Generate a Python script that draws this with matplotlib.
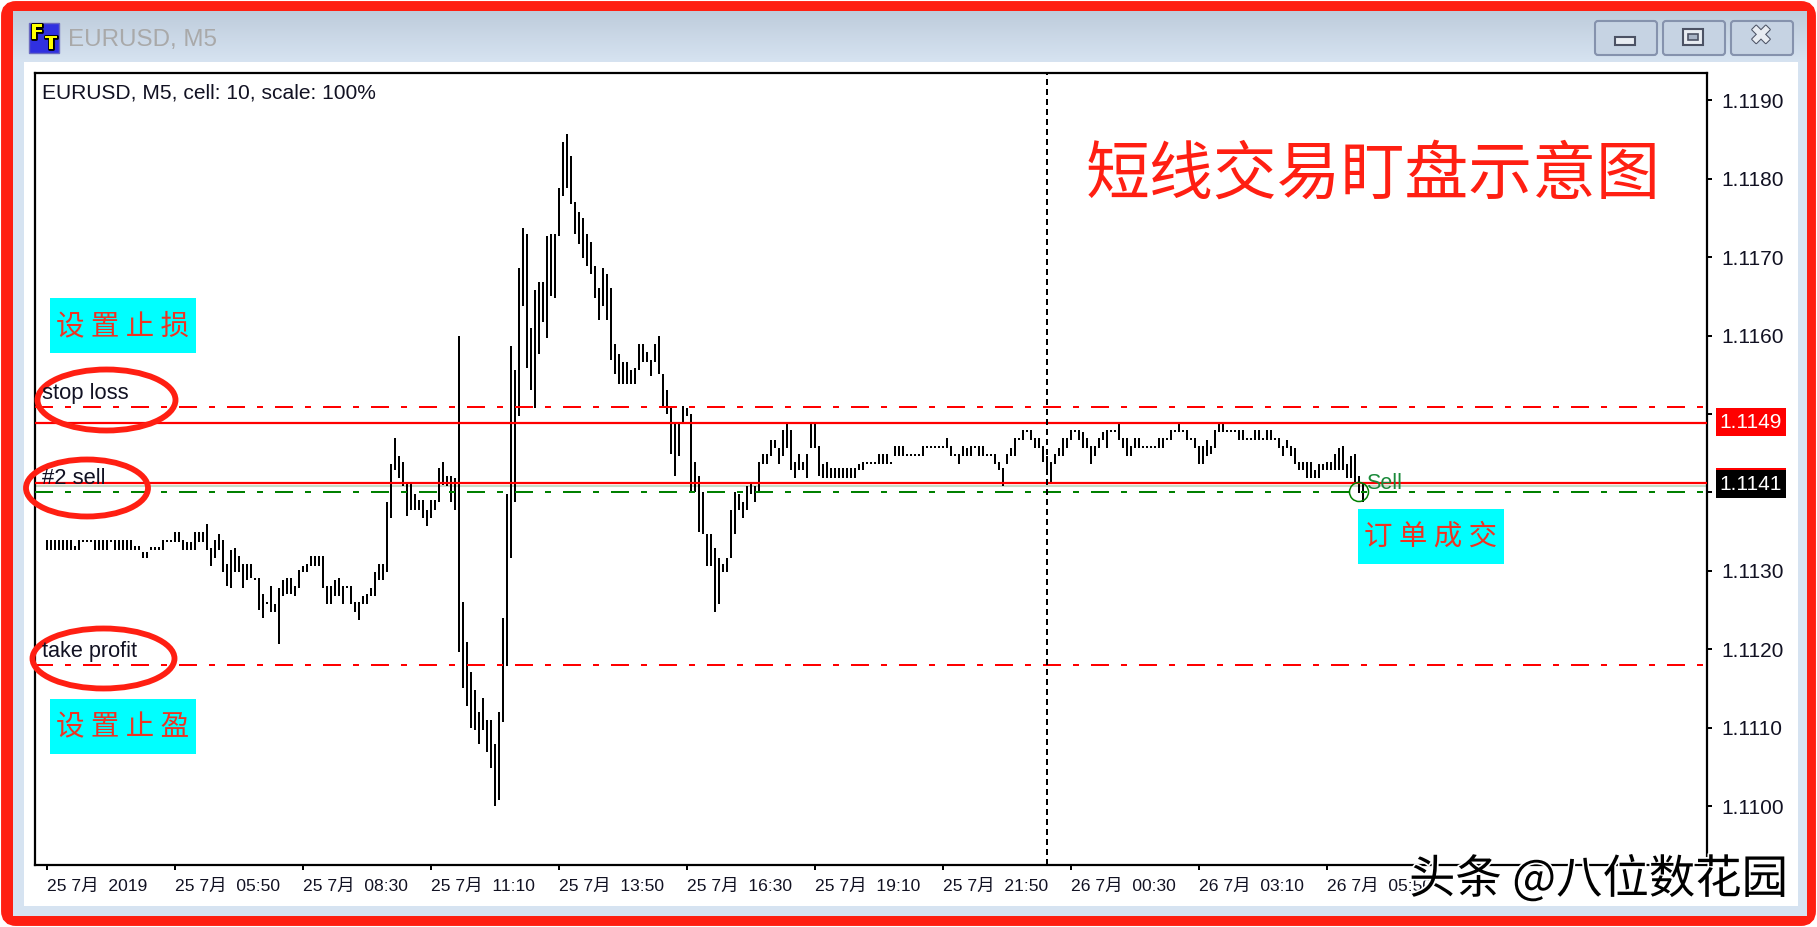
import matplotlib
matplotlib.use('Agg')
import matplotlib.pyplot as plt
import matplotlib.patheffects as pe
import numpy as np
from matplotlib.patches import Rectangle, Ellipse, FancyBboxPatch, Circle

# highs / lows of each M5 bar, points above 1.1100
high_pts = [
    33.9, 33.9, 33.9, 33.9, 33.9, 33.9, 33.9, 33.2, 33.9, 33.9,
    33.9, 33.9, 33.9, 33.9, 33.9, 33.9, 33.9, 33.9, 33.9, 33.9,
    33.9, 33.9, 33.2, 33.2, 32.4, 32.4, 33.0, 33.0, 33.0, 33.9,
    33.9, 33.9, 35.0, 35.0, 33.9, 33.7, 33.7, 35.0, 35.0, 35.0,
    36.0, 32.9, 33.9, 34.7, 33.9, 30.9, 32.7, 32.9, 31.9, 30.9,
    30.9, 30.9, 29.1, 29.1, 27.0, 26.0, 28.1, 25.8, 27.8, 28.8,
    29.1, 29.1, 28.1, 30.1, 30.6, 30.9, 31.9, 31.9, 31.9, 31.9,
    28.1, 28.1, 28.8, 29.1, 28.1, 28.1, 28.1, 26.0, 26.0, 26.8,
    27.1, 27.8, 29.9, 30.9, 30.9, 38.8, 43.6, 46.9, 44.6, 43.9,
    41.2, 41.2, 39.8, 39.0, 39.0, 37.8, 39.0, 39.0, 43.1, 43.9,
    42.1, 42.1, 41.9, 60.0, 26.0, 20.9, 17.1, 14.8, 12.0, 13.8,
    11.0, 11.0, 7.9, 12.0, 24.0, 39.8, 58.7, 55.6, 68.6, 73.7,
    73.0, 61.0, 65.8, 66.8, 66.8, 72.7, 73.0, 73.0, 78.8, 84.7,
    85.7, 82.9, 77.1, 75.8, 75.0, 73.0, 72.0, 68.9, 66.1, 68.6,
    67.9, 66.1, 58.9, 57.7, 56.6, 56.6, 55.6, 55.9, 58.9, 58.9,
    57.9, 56.9, 58.9, 60.0, 55.1, 53.1, 50.8, 48.8, 48.8, 51.0,
    50.8, 50.0, 43.9, 42.1, 40.1, 34.7, 34.7, 32.9, 31.6, 30.9,
    31.6, 37.8, 40.1, 39.8, 38.8, 40.8, 41.1, 40.8, 43.9, 44.9,
    44.9, 46.7, 46.7, 45.7, 48.0, 48.8, 48.0, 43.9, 44.9, 43.9,
    44.9, 48.8, 48.8, 45.9, 43.6, 43.9, 43.1, 43.1, 43.1, 43.1,
    43.1, 43.1, 43.1, 43.6, 43.9, 43.9, 43.9, 43.9, 44.9, 44.9,
    44.9, 43.9, 45.9, 45.9, 45.9, 44.9, 44.9, 44.9, 44.9, 45.9,
    45.9, 45.9, 45.9, 45.9, 45.9, 47.0, 45.9, 44.9, 44.9, 45.9,
    45.7, 45.9, 45.9, 45.9, 45.9, 44.9, 44.9, 44.9, 43.9, 43.1,
    44.9, 45.7, 47.0, 47.0, 48.0, 48.0, 48.0, 47.0, 47.0, 45.9,
    44.7, 43.9, 44.9, 45.7, 47.0, 47.0, 48.0, 48.0, 48.0, 47.7,
    47.0, 45.9, 45.9, 47.0, 47.7, 48.0, 48.0, 48.0, 49.0, 47.0,
    47.0, 45.9, 47.0, 47.0, 45.9, 45.9, 45.9, 45.9, 47.0, 47.0,
    47.0, 48.0, 48.0, 49.0, 48.0, 48.0, 47.0, 47.0, 45.9, 45.9,
    46.7, 45.9, 48.0, 49.0, 49.0, 48.0, 48.0, 48.0, 48.0, 48.0,
    47.0, 47.0, 48.0, 48.0, 47.0, 48.0, 48.0, 47.0, 47.0, 45.9,
    46.7, 45.9, 45.7, 43.9, 43.9, 43.9, 43.9, 42.9, 43.6, 43.6,
    43.9, 43.9, 44.9, 45.7, 45.9, 43.6, 44.7, 44.9, 42.1, 41.1,
]
low_pts = [
    32.7, 32.7, 32.7, 32.7, 32.7, 32.7, 32.7, 32.7, 32.7, 33.7,
    33.7, 33.7, 32.7, 32.7, 32.7, 32.7, 33.7, 32.7, 32.7, 32.7,
    32.7, 32.7, 32.7, 32.7, 31.6, 31.6, 32.7, 32.7, 32.7, 32.7,
    33.7, 33.7, 33.7, 33.7, 32.7, 32.7, 32.7, 32.7, 33.7, 33.7,
    32.7, 30.6, 31.6, 32.7, 29.9, 28.1, 27.8, 29.9, 29.9, 27.8,
    28.8, 29.1, 28.8, 25.0, 24.0, 25.8, 24.8, 24.8, 20.7, 26.8,
    27.0, 27.0, 26.8, 27.8, 29.9, 29.9, 30.6, 30.6, 30.6, 27.8,
    25.8, 25.8, 26.8, 26.8, 25.8, 27.8, 25.8, 24.8, 23.7, 25.8,
    25.8, 26.8, 26.8, 28.8, 28.8, 29.9, 36.7, 42.9, 41.8, 40.8,
    37.0, 37.8, 37.8, 37.8, 36.7, 35.7, 36.7, 37.8, 38.8, 41.0,
    40.8, 38.8, 37.8, 19.7, 15.1, 12.8, 10.0, 9.7, 7.9, 9.7,
    6.9, 4.9, 0.0, 0.8, 10.7, 17.9, 31.6, 38.8, 49.8, 63.8,
    55.9, 53.1, 50.8, 57.7, 61.7, 59.7, 65.1, 64.8, 72.7, 77.8,
    78.8, 76.8, 73.0, 71.7, 69.9, 68.9, 67.9, 64.8, 62.0, 63.8,
    62.0, 56.9, 55.1, 53.8, 53.8, 53.8, 53.8, 53.8, 55.6, 56.6,
    56.6, 54.9, 56.6, 55.1, 50.9, 50.0, 44.9, 42.1, 44.6, 49.0,
    49.8, 39.9, 40.1, 35.0, 34.7, 30.6, 30.6, 24.8, 25.8, 29.9,
    29.9, 31.6, 34.7, 37.8, 36.7, 37.8, 39.8, 38.8, 39.9, 43.6,
    43.6, 44.6, 45.7, 43.6, 44.6, 45.7, 42.9, 41.8, 42.9, 42.9,
    41.8, 45.7, 45.7, 42.1, 41.8, 41.8, 41.8, 41.8, 41.8, 41.8,
    41.8, 41.8, 41.8, 42.9, 42.9, 43.6, 43.6, 43.6, 43.6, 43.6,
    43.6, 43.6, 44.6, 44.6, 44.6, 44.6, 44.6, 44.6, 44.6, 44.6,
    45.7, 45.7, 45.7, 45.7, 45.7, 45.7, 44.6, 44.6, 43.6, 44.6,
    44.6, 44.6, 45.7, 44.6, 44.7, 44.7, 44.7, 43.6, 42.9, 40.8,
    43.6, 44.7, 44.7, 46.7, 46.7, 47.7, 46.7, 45.7, 45.7, 43.9,
    42.4, 41.3, 43.6, 44.7, 44.7, 45.7, 46.7, 47.7, 46.7, 45.7,
    45.7, 43.6, 44.7, 45.7, 46.7, 45.7, 47.7, 47.7, 46.7, 45.7,
    44.7, 44.7, 45.7, 45.7, 45.7, 45.7, 45.7, 45.7, 45.7, 45.7,
    46.7, 46.7, 47.7, 47.7, 47.7, 46.7, 46.7, 45.7, 43.6, 43.6,
    44.7, 44.9, 45.7, 47.7, 47.7, 47.7, 47.7, 47.7, 46.7, 46.7,
    46.7, 46.7, 46.7, 46.7, 46.7, 46.7, 46.7, 46.7, 45.7, 44.7,
    45.7, 44.7, 43.6, 42.9, 42.9, 41.8, 41.8, 41.8, 41.8, 42.9,
    42.9, 42.9, 42.9, 42.9, 42.9, 41.8, 41.8, 41.3, 39.9, 38.8,
]

price_ticks = [1.1100, 1.1110, 1.1120, 1.1130, 1.1140, 1.1150, 1.1160, 1.1170, 1.1180, 1.1190]
# 1.1140 and 1.1150 sit under the bid / ask boxes
price_labels = ['1.1100', '1.1110', '1.1120', '1.1130', '', '', '1.1160', '1.1170', '1.1180', '1.1190']
time_ticks = [0, 32, 64, 96, 128, 160, 192, 224, 256, 288, 320]
time_labels = ['25 7月  2019', '25 7月  05:50', '25 7月  08:30', '25 7月  11:10', '25 7月  13:50',
               '25 7月  16:30', '25 7月  19:10', '25 7月  21:50', '26 7月  00:30', '26 7月  03:10',
               '26 7月  05:50']

stop_loss = 1.11509
take_profit = 1.11180
open_price = 1.11400
ask_price = 1.11489
bid_price = 1.11412
cursor_bar = 250

W, H = 1817, 927
RED = '#ff1f12'
LATIN = ['Liberation Sans', 'Noto Sans CJK SC']
CJK = ['Noto Sans CJK SC', 'DejaVu Sans']
plt.rcParams['font.family'] = LATIN

fig = plt.figure(figsize=(W / 100, H / 100), dpi=100, facecolor='white')

# window frame behind the chart
bg = fig.add_axes([0, 0, 1, 1], zorder=0)
bg.set_xlim(0, W)
bg.set_ylim(H, 0)
bg.axis('off')
bg.add_patch(FancyBboxPatch((8, 8), W - 16, H - 16, boxstyle='round,pad=0,rounding_size=8',
                            fc=RED, ec=RED, lw=10))
bg.add_patch(Rectangle((13, 11), 1794, 905, fc='#d6e3f1', ec='none'))
grad = np.linspace(0, 1, 60).reshape(-1, 1)
bg.imshow(np.array([[[0.745, 0.80, 0.86]]]) * (1 - grad[..., None]) + np.array([[[0.84, 0.89, 0.945]]]) * grad[..., None],
          extent=(13, 1807, 62, 11), aspect='auto', zorder=1)
bg.set_xlim(0, W)
bg.set_ylim(H, 0)
bg.add_patch(Rectangle((24, 62), 1774, 844, fc='white', ec='none', zorder=2))

# title bar
bg.add_patch(Rectangle((29, 23), 30, 30, fc='#3030e0', ec='#6a6ac0', lw=1, zorder=3))
icon_stroke = [pe.withStroke(linewidth=2, foreground='black')]
bg.text(37, 33, 'F', color='#ffff00', fontsize=14, fontweight='bold', ha='center', va='center',
        family='DejaVu Sans', zorder=4, path_effects=icon_stroke)
bg.text(51, 44, 'T', color='#ffff00', fontsize=13, fontweight='bold', ha='center', va='center',
        family='DejaVu Sans', zorder=4, path_effects=icon_stroke)
bg.text(68, 40, 'EURUSD, M5', color='#a9a9a9', fontsize=17.4, va='center', zorder=3)
for x0 in [1595, 1663, 1731]:
    bg.add_patch(FancyBboxPatch((x0, 21), 62, 34, boxstyle='round,pad=0,rounding_size=3',
                                fc='#c6d3e3', ec='#8592ad', lw=1.5, zorder=3))
bg.add_patch(Rectangle((1615, 37), 20, 8, fc='#e8ecf2', ec='#4c5264', lw=1.5, zorder=4))
bg.add_patch(Rectangle((1683, 29), 20, 16, fc='#e8ecf2', ec='#4c5264', lw=1.5, zorder=4))
bg.add_patch(Rectangle((1688, 34), 10, 6, fc='#a9b4c6', ec='#4c5264', lw=1.2, zorder=5))
bg.text(1761, 37, '✖', fontsize=19, color='#e8ecf2', ha='center', va='center', family='DejaVu Sans',
        zorder=4, path_effects=[pe.withStroke(linewidth=1.5, foreground='#4c5264')])

# main chart
left, right, top, bottom = 35, 1707, 73, 865
ax = fig.add_axes([left / W, 1 - bottom / H, (right - left) / W, (bottom - top) / H], zorder=1)
ax.set_xlim((left - 46.7) / 4, (right - 46.7) / 4)
ax.set_ylim(1.1100 + (806 - bottom) / 78400, 1.1100 + (806 - top) / 78400)

bars = np.arange(len(high_pts))
highs = 1.1100 + np.array(high_pts) / 10000
lows = 1.1100 + np.array(low_pts) / 10000
ax.vlines(bars, lows, highs, color='black', lw=1.44, antialiased=False, zorder=3)

dashdot = (0, (9, 6, 3, 6))
ax.axhline(stop_loss, color='red', lw=1.44, ls=dashdot, zorder=4)
ax.axhline(take_profit, color='red', lw=1.44, ls=dashdot, zorder=4)
ax.axhline(open_price, color='green', lw=1.44, ls=dashdot, zorder=4)
ax.axhline(ask_price, color='red', lw=1.6, zorder=4)
ax.axhline(bid_price - 0.000035, color='#c8dcc8', lw=1.5, zorder=2)
ax.axhline(bid_price, color='red', lw=1.6, zorder=4)
ax.axvline(cursor_bar, color='black', lw=1.44, ls=(0, (3, 2)), zorder=5)

ax.yaxis.tick_right()
ax.set_yticks(price_ticks)
ax.set_yticklabels(price_labels, fontsize=15, color='#111122')
ax.set_xticks(time_ticks)
ax.set_xticklabels(time_labels, fontsize=12.6, ha='left', color='#111122')
ax.tick_params(axis='y', length=3.6, width=1.44, pad=6.5)
ax.tick_params(axis='x', length=3.6, width=1.44, pad=6.5)
for s in ax.spines.values():
    s.set_linewidth(1.6)

# annotations on top, in pixel coordinates
fg = fig.add_axes([0, 0, 1, 1], zorder=2)
fg.set_xlim(0, W)
fg.set_ylim(H, 0)
fg.axis('off')
fg.patch.set_alpha(0)

fg.text(42, 93, 'EURUSD, M5, cell: 10, scale: 100%', fontsize=15.1, color='#111122', va='center')
fg.text(42, 394, 'stop loss', fontsize=15.8, color='#111122', va='center')
fg.text(42, 478, '#2 sell', fontsize=15.8, color='#111122', va='center')
fg.text(42, 651, 'take profit', fontsize=15.6, color='#111122', va='center')
fg.text(1366, 483, 'Sell', fontsize=15.5, color='#1a8a3a', va='center')
fg.add_patch(Circle((1359, 492), 9.5, fc='none', ec='green', lw=1.1))

for cx, cy, w, h in [(106.5, 400, 138, 61), (87, 488, 122, 57), (103.5, 658.5, 142, 60)]:
    fg.add_patch(Ellipse((cx, cy), w, h, fc='none', ec=RED, lw=4.2))

for x0, y0, label in [(50, 298, '设 置 止 损'), (50, 699, '设 置 止 盈'), (1358, 509, '订 单 成 交')]:
    fg.add_patch(Rectangle((x0, y0), 146, 55, fc='#00ffff', ec='none'))
    fg.text(x0 + 73, y0 + 28, label, fontsize=20.5, color='#ee3322', ha='center', va='center', family=CJK)

fg.text(1373, 175, '短线交易盯盘示意图', fontsize=46, color=RED, ha='center', va='center', family=CJK)

fg.add_patch(Rectangle((1716, 408), 70, 28, fc='red', ec='none'))
fg.text(1751, 422, '1.1149', fontsize=15, color='white', ha='center', va='center')
fg.add_patch(Rectangle((1716, 468), 70, 30, fc='black', ec='none'))
fg.add_patch(Rectangle((1716, 468), 70, 2, fc='red', ec='none'))
fg.text(1751, 484, '1.1141', fontsize=15, color='white', ha='center', va='center')

fg.text(1409, 880, '头条 @八位数花园', fontsize=33.4, color='black', va='center', family=CJK,
        path_effects=[pe.withStroke(linewidth=2.5, foreground='white')])

fig.savefig('out.png', dpi=100, facecolor='white')
